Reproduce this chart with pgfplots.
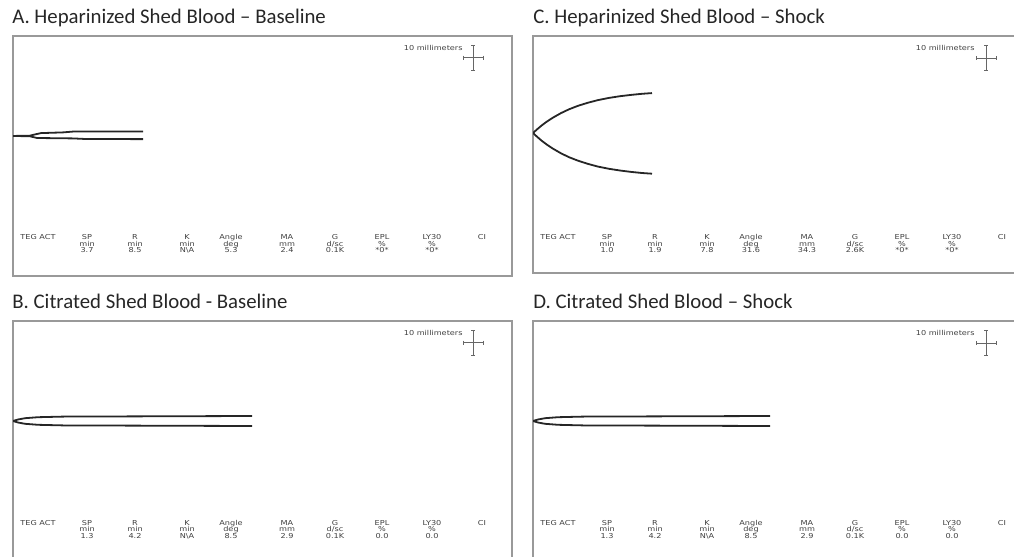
\documentclass[border=0pt]{standalone}
\usepackage{pgfplots}
\pgfplotsset{compat=1.18}
\usepackage{fontspec}
\setmainfont{Carlito}
\newfontfamily\tegfont[FakeStretch=1.2]{DejaVu Sans}

\pgfplotsset{
  tegpanel/.style={scale only axis, anchor=north west,
    xtick=\empty, ytick=\empty,
    axis line style={draw=black!40, line width=1pt}},
  trace/.style={black!85, line width=0.9pt, line join=round, mark=none},
}
\tikzset{
  tegtxt/.style={font=\tegfont\fontsize{3.4}{3.4}\selectfont, text=black!75, inner sep=0pt, anchor=base},
  ttl/.style={font=\fontsize{10.4}{12}\selectfont, text=black!85, inner sep=0pt, anchor=base west},
}
\newcommand{\tcol}[4]{%
  \node[tegtxt] at (#1,239.5) {#2};
  \node[tegtxt] at (#1,246) {#3};
  \node[tegtxt] at (#1,252.5) {#4};}
\newcommand{\tegtab}[8]{%
  \node[tegtxt, anchor=base west] at (20,239.5) {TEG ACT};
  \tcol{87}{SP}{min}{#1}
  \tcol{135}{R}{min}{#2}
  \tcol{187}{K}{min}{#3}
  \tcol{231}{Angle}{deg}{#4}
  \tcol{287}{MA}{mm}{#5}
  \tcol{335}{G}{d/sc}{#6}
  \tcol{382}{EPL}{\%}{#7}
  \tcol{432}{LY30}{\%}{#8}
  \node[tegtxt] at (482,239.5) {CI};}
\newcommand{\tegcross}[3]{% cx, cy, text end x
  \node[tegtxt, anchor=base east] at (#3,#2-7.5) {10 millimeters};
  \draw[black!60, line width=0.5pt] (#1,#2-12.5) -- (#1,#2+12.5);
  \draw[black!60, line width=0.5pt] (#1-10,#2) -- (#1+10,#2);
  \draw[black!60, line width=0.5pt] (#1-2,#2-12.5) -- (#1+2,#2-12.5);
  \draw[black!60, line width=0.5pt] (#1-2,#2+12.5) -- (#1+2,#2+12.5);
  \draw[black!60, line width=0.5pt] (#1-10,#2-2) -- (#1-10,#2+2);
  \draw[black!60, line width=0.5pt] (#1+10,#2-2) -- (#1+10,#2+2);}

\begin{document}
\begin{tikzpicture}
\useasboundingbox (0,0) rectangle (507pt,-278.5pt);
\clip (0,0) rectangle (507pt,-278.5pt);

% A. Heparinized baseline
\begin{axis}[tegpanel, at={(6.5pt,-18pt)}, width=249.5pt, height=117.5pt,
  xmin=0, xmax=499, ymin=-137, ymax=98]
\addplot[trace] coordinates {(0,0) (17,0.3) (22,1.5) (28,2.8) (50,3.5) (60,4.3) (130,4.4)};
\addplot[trace] coordinates {(0,0) (17,-0.3) (24,-2) (60,-2.4) (73,-3) (130,-3.1)};
\end{axis}

% C. Heparinized shock
\begin{axis}[tegpanel, at={(266.5pt,-18pt)}, width=243.5pt, height=118.5pt,
  xmin=0, xmax=487, ymin=-140, ymax=97]
\addplot[trace] coordinates {(0,0) (4,3.6) (9,7.8) (14,11.5) (20,15.4) (28,19.9) (36,23.7) (45,27.2) (55,30.3) (65,32.9) (76,35.1) (87,36.8) (98,38.1) (109,39.2) (119,39.9)};
\addplot[trace] coordinates {(0,0) (4,-3.7) (9,-8.0) (14,-11.7) (20,-15.7) (28,-20.3) (36,-24.2) (45,-27.7) (55,-30.9) (65,-33.6) (76,-35.8) (87,-37.5) (98,-38.9) (109,-40.0) (119,-40.7)};
\end{axis}

% B. Citrated baseline
\begin{axis}[tegpanel, at={(6.5pt,-160.5pt)}, width=249.5pt, height=119.5pt,
  xmin=0, xmax=499, ymin=-139, ymax=100]
\addplot[trace] coordinates {(0,0) (5,1.5) (12,2.8) (25,3.8) (50,4.4) (239,5.0)};
\addplot[trace] coordinates {(0,0) (5,-1.5) (12,-2.8) (25,-3.8) (50,-4.4) (239,-5.0)};
\end{axis}

% D. Citrated shock
\begin{axis}[tegpanel, at={(266.5pt,-160.5pt)}, width=243.5pt, height=119.5pt,
  xmin=0, xmax=487, ymin=-139, ymax=100]
\addplot[trace] coordinates {(0,0) (5,1.5) (12,2.8) (25,3.8) (50,4.4) (237,5.0)};
\addplot[trace] coordinates {(0,0) (5,-1.5) (12,-2.8) (25,-3.8) (50,-4.4) (237,-5.0)};
\end{axis}

\begin{scope}[x=0.5pt, y=-0.5pt]
  \node[ttl] at (12,23.3) {A. Heparinized Shed Blood – Baseline};
  \node[ttl] at (533,23.3) {C. Heparinized Shed Blood – Shock};
  \node[ttl] at (12,308.3) {B. Citrated Shed Blood - Baseline};
  \node[ttl] at (533,308.3) {D. Citrated Shed Blood – Shock};

  \tegcross{473}{57.5}{463}
  \tegcross{986}{58}{975}
  \tegcross{473}{342.5}{463}
  \tegcross{986}{343}{975}

  \tegtab{3.7}{8.5}{N\textbackslash A}{5.3}{2.4}{0.1K}{*0*}{*0*}
  \begin{scope}[shift={(520,0)}]
    \tegtab{1.0}{1.9}{7.8}{31.6}{34.3}{2.6K}{*0*}{*0*}
  \end{scope}
  \begin{scope}[shift={(0,285.5)}]
    \tegtab{1.3}{4.2}{N\textbackslash A}{8.5}{2.9}{0.1K}{0.0}{0.0}
  \end{scope}
  \begin{scope}[shift={(520,285.5)}]
    \tegtab{1.3}{4.2}{N\textbackslash A}{8.5}{2.9}{0.1K}{0.0}{0.0}
  \end{scope}
\end{scope}
\end{tikzpicture}
\end{document}
